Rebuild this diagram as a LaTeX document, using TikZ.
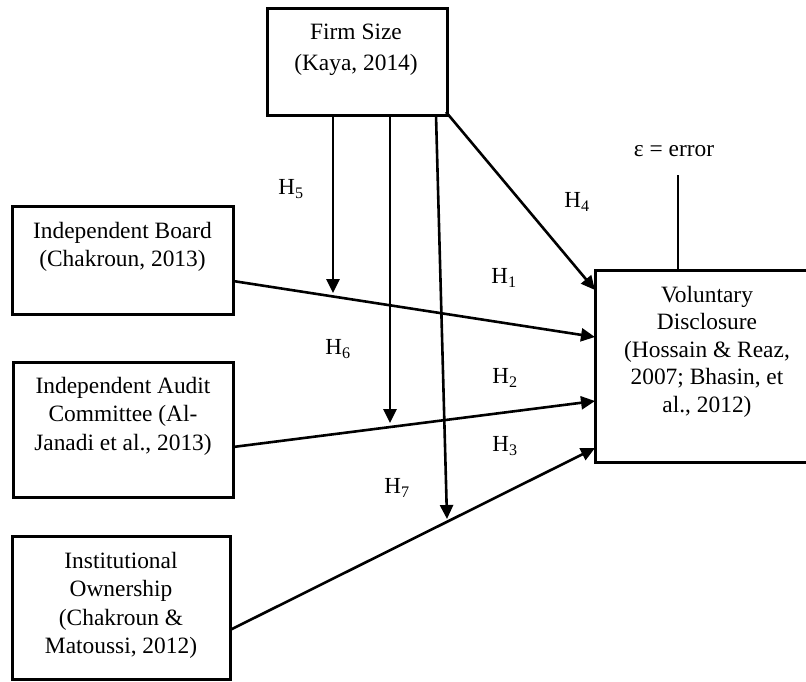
\documentclass[tikz,border=0pt]{standalone}
\usepackage{fontspec}
\setmainfont{Liberation Serif}
\usetikzlibrary{arrows.meta}
\begin{document}
\begin{tikzpicture}[x=1pt,y=-1pt,
  box/.style={draw,line width=3pt,inner sep=0pt,outer sep=0pt,anchor=north west},
  txt/.style={align=center,inner sep=0pt,anchor=north,font=\fontsize{23.4}{28.5}\selectfont},
  hlab/.style={inner sep=0pt,font=\fontsize{23}{26}\selectfont},
  arr/.style={line width=2.6pt,-{Triangle[length=14pt,width=13pt]}}]
\useasboundingbox (0,0) rectangle (806,681);
\clip (0,0) rectangle (806,681);
% boxes
\node[box,minimum width=180pt,minimum height=107pt] (fs) at (267,8) {};
\node[box,minimum width=221pt,minimum height=108pt] (brd) at (12,206) {};
\node[box,minimum width=220pt,minimum height=135pt] (aud) at (13,362) {};
\node[box,minimum width=218pt,minimum height=143pt] (inst) at (12,536) {};
\node[box,minimum width=224pt,minimum height=192pt] (vd) at (595,270) {};
% texts
\node[txt,font=\fontsize{23.4}{31}\selectfont] (tfs) at (356,24) {Firm Size\\(Kaya, 2014)};
\node[txt] (tbrd) at (122.5,222) {Independent Board\\(Chakroun, 2013)};
\node[txt] (taud) at (123,377) {Independent Audit\\Committee (Al-\\Janadi et al., 2013)};
\node[txt] (tinst) at (121,552) {Institutional\\Ownership\\(Chakroun \&\\Matoussi, 2012)};
\node[txt,font=\fontsize{23.4}{27.5}\selectfont] (tvd) at (707,286) {Voluntary\\Disclosure\\(Hossain \& Reaz,\\2007; Bhasin, et\\al., 2012)};
% error
\node[anchor=base,inner sep=0pt,font=\fontsize{23.4}{28}\selectfont] (err) at (674,156) {ε = error};
\coordinate (errtop) at (678,175);
\coordinate (errbot) at (678,270);
\draw[line width=1.3pt] (errtop) -- (errbot);
% arrow coordinates
\coordinate (f5) at (333,115); \coordinate (t5) at (333,293);
\coordinate (f6) at (390,115); \coordinate (t6) at (390,423);
\coordinate (f7) at (436,115); \coordinate (t7) at (447,519);
\coordinate (f4) at (446,112); \coordinate (t4) at (595,290);
\coordinate (f1) at (233,281); \coordinate (t1) at (595,337);
\coordinate (f2) at (233,447); \coordinate (t2) at (595,401);
\coordinate (f3) at (230,630); \coordinate (t3) at (595,448);
\draw[arr] (f5) -- (t5);
\draw[arr] (f6) -- (t6);
\draw[arr] (f7) -- (t7);
\draw[arr] (f4) -- (t4);
\draw[arr] (f1) -- (t1);
\draw[arr] (f2) -- (t2);
\draw[arr] (f3) -- (t3);
% labels
\node[hlab] (h5) at (291,189) {H\textsubscript{5}};
\node[hlab] (h6) at (338,349) {H\textsubscript{6}};
\node[hlab] (h7) at (397,488) {H\textsubscript{7}};
\node[hlab] (h1) at (504,278) {H\textsubscript{1}};
\node[hlab] (h2) at (505,378) {H\textsubscript{2}};
\node[hlab] (h3) at (505,446) {H\textsubscript{3}};
\node[hlab] (h4) at (577,202) {H\textsubscript{4}};
\end{tikzpicture}
\end{document}
